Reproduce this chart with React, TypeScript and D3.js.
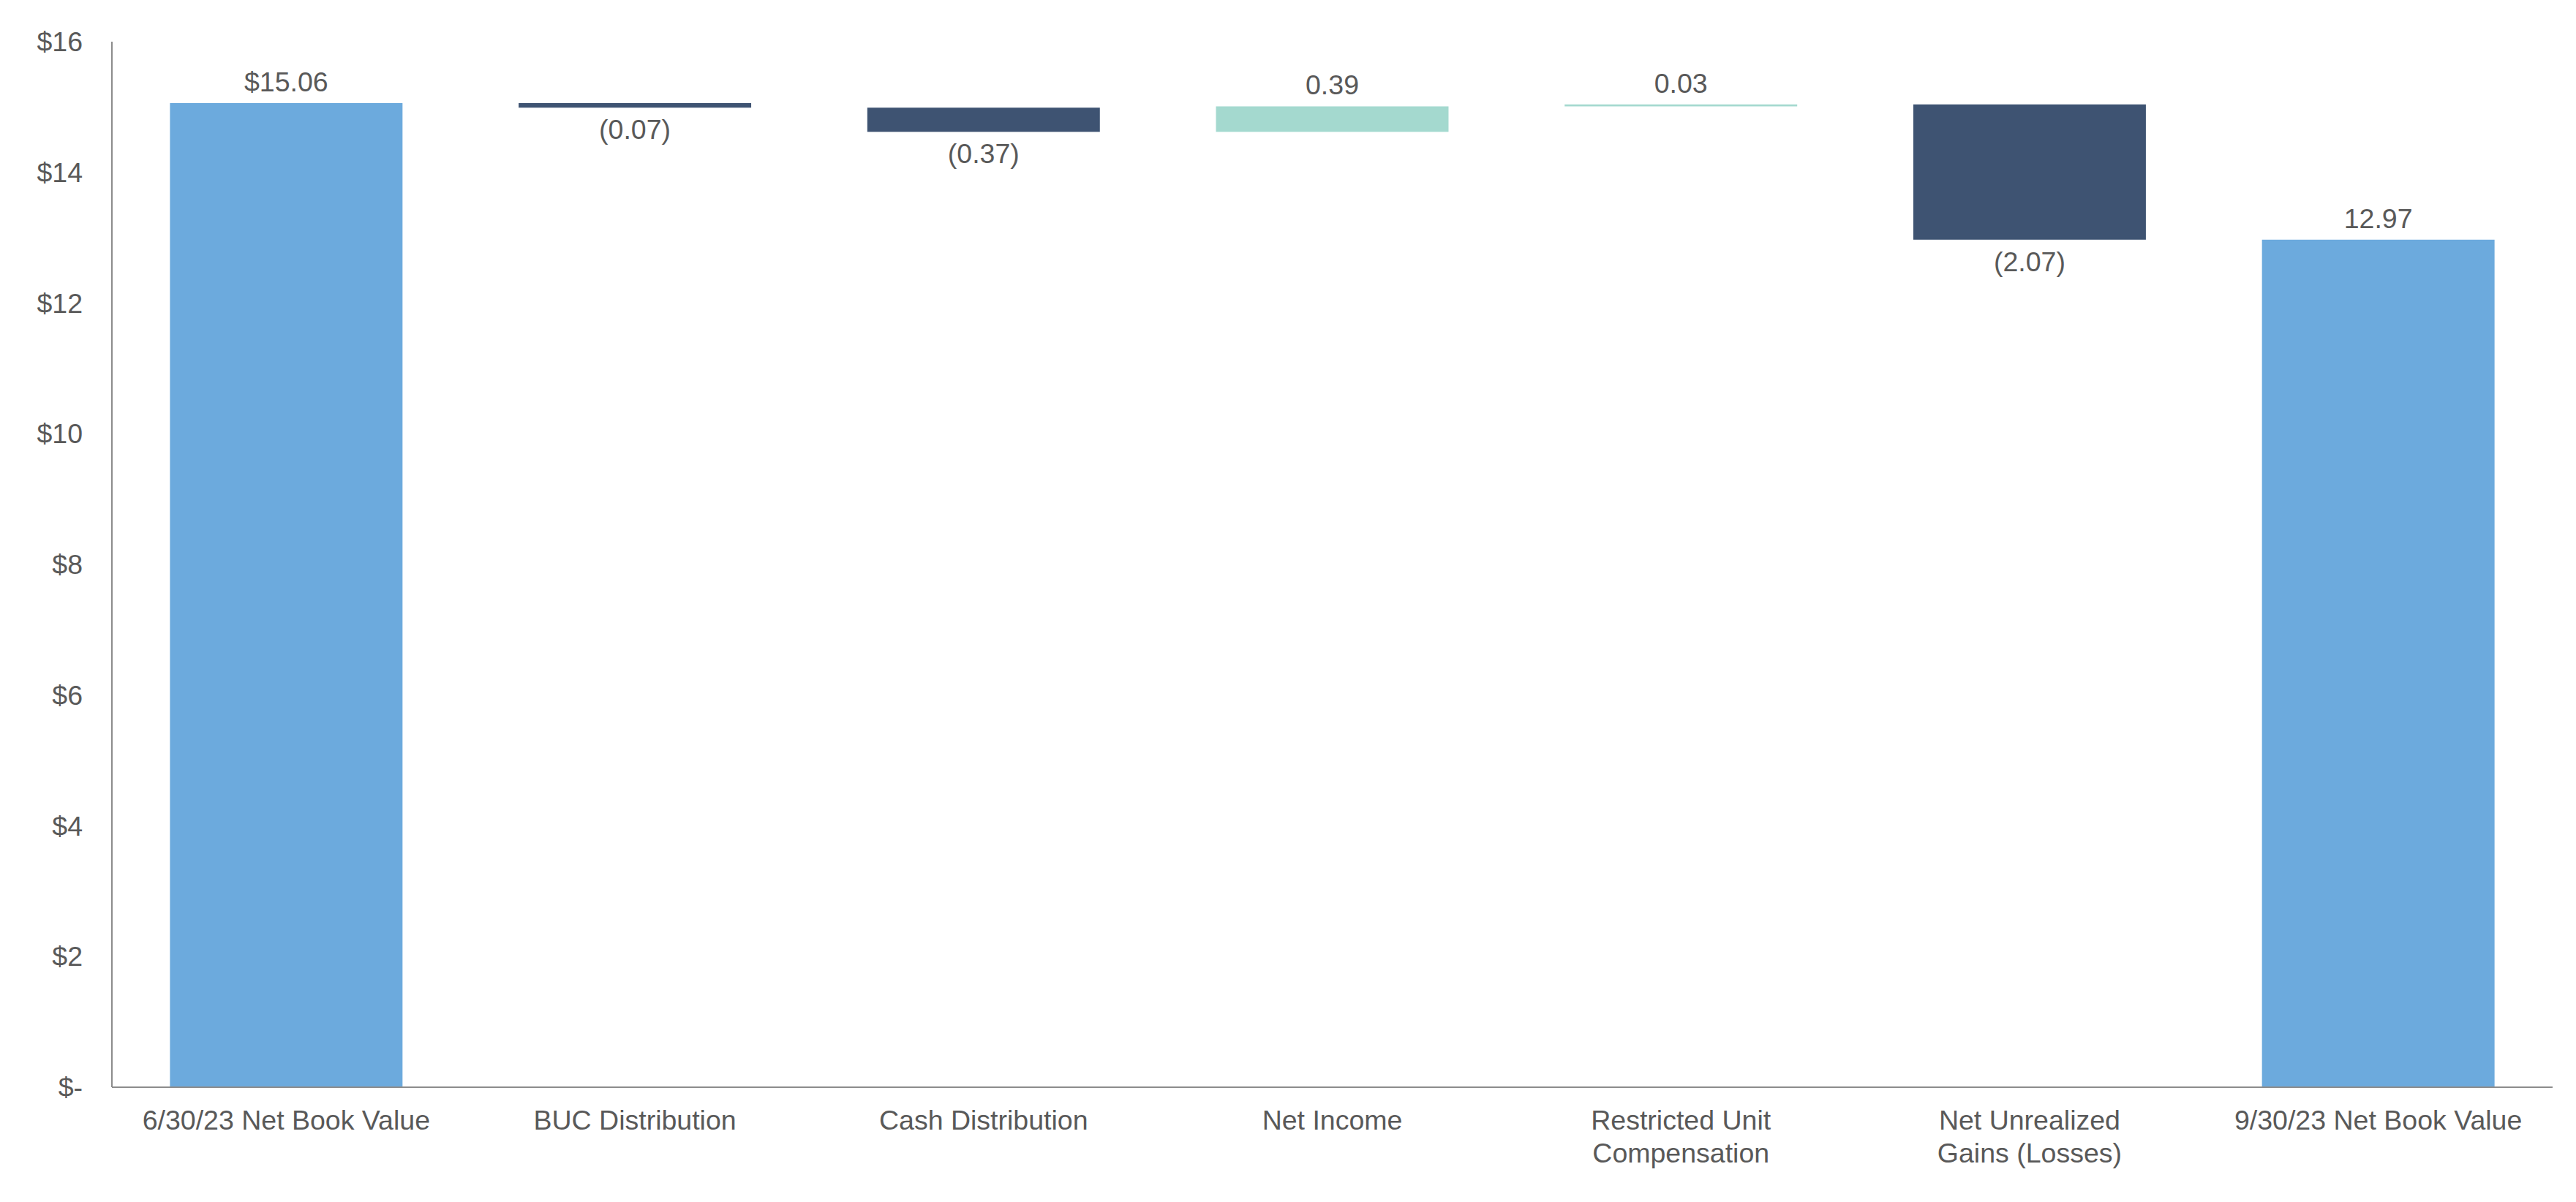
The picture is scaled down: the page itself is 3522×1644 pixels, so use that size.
import React from 'react';
import * as d3 from 'd3';

const categoryLines: string[][] = [
  ['6/30/23 Net Book Value'],
  ['BUC Distribution'],
  ['Cash Distribution'],
  ['Net Income'],
  ['Restricted Unit', 'Compensation'],
  ['Net Unrealized', 'Gains (Losses)'],
  ['9/30/23 Net Book Value'],
];
const categories = categoryLines.map((l) => l.join(' '));
const kinds = ['total', 'decrease', 'decrease', 'increase', 'increase', 'decrease', 'total'];
const values = [15.06, -0.07, -0.37, 0.39, 0.03, -2.07, 12.97];
const valueLabels = ['$15.06', '(0.07)', '(0.37)', '0.39', '0.03', '(2.07)', '12.97'];
const yTicks = [0, 2, 4, 6, 8, 10, 12, 14, 16];
const yTickLabels = ['$-', '$2', '$4', '$6', '$8', '$10', '$12', '$14', '$16'];

const W = 3522;
const H = 1644;
const LEFT = 153;
const RIGHT = 3490;
const TOP = 57;
const BOTTOM = 1487;

const COLORS: Record<string, string> = {
  total: '#6CAADD',
  decrease: '#3E5372',
  increase: '#A4D9CF',
};
const TEXT = '#595959';
const AXIS = '#8C8C8C';
const FONT = '"Liberation Sans", Arial, sans-serif';
const FS = 37.5;

export default function App() {
  const x = d3.scaleBand<string>().domain(categories).range([LEFT, RIGHT]).paddingInner(0.333).paddingOuter(0.1665);
  const y = d3.scaleLinear().domain([0, 16]).range([BOTTOM, TOP]);

  let running = 0;
  const bars = values.map((v, i) => {
    let lo: number, hi: number;
    if (kinds[i] === 'total') {
      lo = 0;
      hi = v;
      running = v;
    } else {
      const start = running;
      const end = running + v;
      lo = Math.min(start, end);
      hi = Math.max(start, end);
      running = end;
    }
    return { cat: categories[i], lo, hi, kind: kinds[i], label: valueLabels[i], v };
  });

  return (
    <svg width={W} height={H} style={{ position: 'absolute', left: 0, top: 0, background: '#fff' }} fontFamily={FONT}>
      <rect x={0} y={0} width={W} height={H} fill="#fff" />
      {bars.map((b, i) => {
        const x0 = x(b.cat)!;
        const yTop = y(b.hi);
        const yBot = y(b.lo);
        const h = Math.max(yBot - yTop, 1);
        const cx = x0 + x.bandwidth() / 2;
        const below = b.kind === 'decrease';
        return (
          <g key={i}>
            <rect x={x0} y={yTop} width={x.bandwidth()} height={h} fill={COLORS[b.kind]} />
            <text
              x={cx}
              y={below ? yBot + 43 : yTop - 16}
              textAnchor="middle"
              fontSize={FS}
              fill={TEXT}
            >
              {b.label}
            </text>
          </g>
        );
      })}
      <line x1={LEFT} x2={LEFT} y1={y(16)} y2={y(0)} stroke={AXIS} strokeWidth={2} />
      <line x1={LEFT} x2={RIGHT} y1={y(0)} y2={y(0)} stroke={AXIS} strokeWidth={2} />
      {yTicks.map((t, i) => (
        <text key={t} x={LEFT - 40} y={y(t)} dy="0.35em" textAnchor="end" fontSize={FS} fill={TEXT}>
          {yTickLabels[i]}
        </text>
      ))}
      {categoryLines.map((lines, i) => {
        const cx = x(categories[i])! + x.bandwidth() / 2;
        return (
          <text key={i} textAnchor="middle" fontSize={FS} fill={TEXT}>
            {lines.map((ln, j) => (
              <tspan key={j} x={cx} y={1545 + j * 45}>
                {ln}
              </tspan>
            ))}
          </text>
        );
      })}
    </svg>
  );
}
